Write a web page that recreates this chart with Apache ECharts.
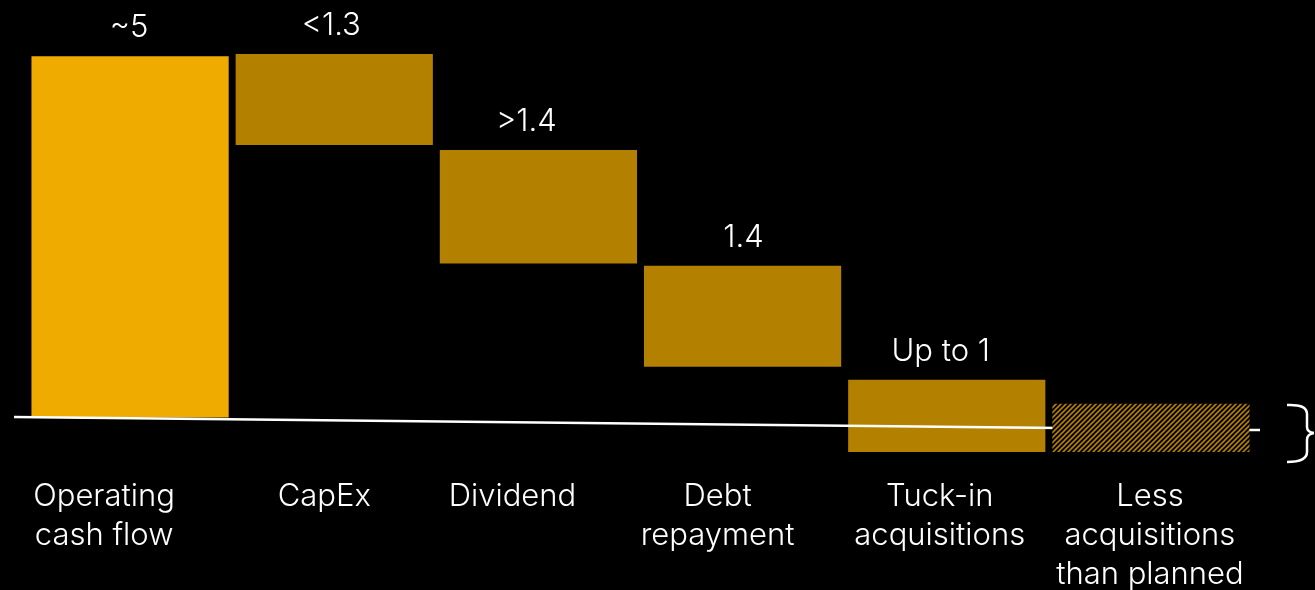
<!DOCTYPE html>
<html>
<head>
<meta charset="utf-8">
<script src="https://cdn.jsdelivr.net/npm/echarts@6/dist/echarts.min.js"></script>
<style>
  html, body { margin: 0; padding: 0; background: #000; }
  #chart { width: 1315px; height: 590px; }
</style>
</head>
<body>
<div id="chart"></div>
<script>
// Cash flow allocation waterfall (values in billions)
const categories = ['Operating\ncash flow', 'CapEx', 'Dividend', 'Debt\nrepayment', 'Tuck-in\nacquisitions', 'Less\nacquisitions\nthan planned'];
const valueLabels = ['~5', '<1.3', '>1.4', '1.4', 'Up to 1', ''];
const barBase = [0, 3.77, 2.13, 0.70, -0.48, -0.48];
const barSize = [5.0, 1.26, 1.57, 1.40, 1.00, 0.67];
const barKind = ['total', 'use', 'use', 'use', 'use', 'hatched'];

// typography and small horizontal nudges for the text (px)
const FONT = 'Inter';
const FONT_WEIGHT = 300;
const FONT_SIZE = 31;
const categoryNudge = [-26, -10, -26, -25, -7, -1];
const valueNudge = [-1, -3, -12, 1, -6, 0];

const COLOR_TOTAL = '#F0AB00';
const COLOR_USE = '#B38000';

// diagonal hatch for the "less acquisitions" block
function hatchPattern() {
  const c = document.createElement('canvas');
  c.width = 5; c.height = 5;
  const g = c.getContext('2d');
  g.fillStyle = '#000';
  g.fillRect(0, 0, 5, 5);
  g.strokeStyle = COLOR_USE;
  g.lineWidth = 1.6;
  g.beginPath();
  g.moveTo(-1, 6); g.lineTo(6, -1);
  g.moveTo(-1, 1); g.lineTo(1, -1);
  g.moveTo(4, 6); g.lineTo(6, 4);
  g.stroke();
  return c;
}
const hatch = hatchPattern();

const solidData = [];
const hatchedData = [];
categories.forEach((c, i) => {
  const row = [i, barBase[i], barBase[i] + barSize[i]];
  (barKind[i] === 'hatched' ? hatchedData : solidData).push(row);
});

function renderBar(params, api) {
  const i = api.value(0);
  const lo = api.coord([i, api.value(1)]);
  const hi = api.coord([i, api.value(2)]);
  const w = api.size([1, 0])[0] * 0.966;
  const kind = barKind[i];
  const children = [{
    type: 'rect',
    shape: { x: lo[0] - w / 2, y: hi[1], width: w, height: lo[1] - hi[1] },
    style: kind === 'hatched'
      ? { fill: { image: hatch, repeat: 'repeat' } }
      : { fill: kind === 'total' ? COLOR_TOTAL : COLOR_USE }
  }];
  if (valueLabels[i]) {
    children.push({
      type: 'text',
      x: lo[0] + valueNudge[i], y: hi[1] - 28,
      style: {
        text: valueLabels[i], fill: '#fff', fontFamily: FONT, fontWeight: FONT_WEIGHT,
        fontSize: FONT_SIZE, align: 'center', verticalAlign: 'middle'
      }
    });
  }
  return { type: 'group', children };
}

// rich styles shift each category label sideways via asymmetric padding
const rich = {};
categoryNudge.forEach((d, i) => {
  rich['c' + i] = {
    color: '#fff', fontFamily: FONT, fontWeight: FONT_WEIGHT, fontSize: FONT_SIZE,
    lineHeight: 39,
    padding: d < 0 ? [0, -2 * d, 0, 0] : [0, 0, 0, 2 * d]
  };
});

const braceStyle = { stroke: '#fff', lineWidth: 2.5, fill: null };
const quad = (x1, y1, cx, cy, x2, y2) => ({
  type: 'bezierCurve', z: 5,
  shape: { x1, y1, x2, y2, cpx1: cx, cpy1: cy },
  style: braceStyle
});
const seg = (x1, y1, x2, y2) => ({ type: 'line', z: 5, shape: { x1, y1, x2, y2 }, style: braceStyle });

const chart = echarts.init(document.getElementById('chart'));
chart.setOption({
  backgroundColor: '#000',
  animation: false,
  grid: { left: 28, right: 62, top: 20, bottom: 121 },
  xAxis: {
    type: 'category',
    data: categories,
    axisLine: { show: false },
    axisTick: { show: false },
    axisLabel: {
      interval: 0, margin: 9,
      formatter: (value, idx) => value.split('\n').map(l => `{c${idx}|${l}}`).join('\n'),
      rich
    }
  },
  yAxis: { type: 'value', min: -0.7, max: 5.5, show: false, splitLine: { show: false } },
  series: [
    { type: 'custom', data: solidData, z: 2, renderItem: renderBar },
    // the hatched block sits on top of the baseline
    { type: 'custom', data: hatchedData, z: 10, renderItem: renderBar }
  ],
  graphic: [
    // slightly sloping baseline
    {
      type: 'polyline', z: 5,
      shape: { points: [[14, 417], [1250, 430], [1260, 430]] },
      style: { stroke: '#fff', lineWidth: 2.5, fill: null }
    },
    // closing brace on the right
    quad(1287, 405, 1307, 404, 1307, 414),
    seg(1307, 414, 1307, 427),
    quad(1307, 427, 1307, 432, 1314, 433),
    quad(1314, 433, 1307, 434, 1307, 440),
    seg(1307, 440, 1307, 452),
    quad(1307, 452, 1307, 462, 1287, 462)
  ]
});
</script>
</body>
</html>
